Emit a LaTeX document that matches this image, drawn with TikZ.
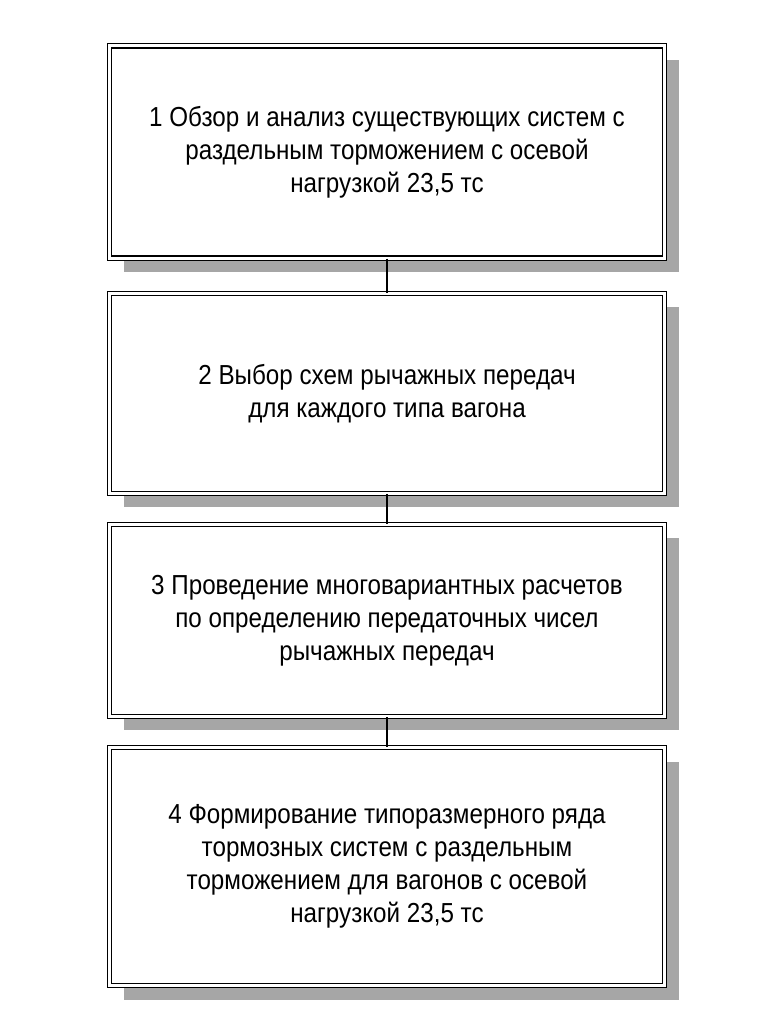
\documentclass[tikz,border=0pt]{standalone}
\usepackage{fontspec}
\setmainfont[FakeStretch=0.88]{Liberation Sans}
\usetikzlibrary{positioning,shadows}

\begin{document}
\begin{tikzpicture}[x=1pt,y=1pt,node distance=30pt,
  stage/.style={rectangle, draw, double, double distance=3pt, line width=1.2pt,
    fill=white, minimum width=555pt, align=center,
    font=\fontsize{27.5}{33}\selectfont,
    drop shadow={shadow xshift=14pt, shadow yshift=-14pt, fill=black!35, opacity=1}}]
				\useasboundingbox (0,0) rectangle (765,-1024);

				\node[stage, minimum height=212pt] (S1) at (387,-152)
					{1 Обзор и анализ существующих систем с\\раздельным торможением с осевой\\нагрузкой 23,5 тс};
				\node[stage, minimum height=200pt] (S2) [below=34pt of S1]
					{2 Выбор схем рычажных передач\\для каждого типа вагона};
				\node[stage, minimum height=192pt] (S3) [below=of S2]
					{3 Проведение многовариантных расчетов\\по определению передаточных чисел\\рычажных передач};
				\node[stage, minimum height=238pt] (S4) [below=of S3]
					{4 Формирование типоразмерного ряда\\тормозных систем с раздельным\\торможением для вагонов с осевой\\нагрузкой 23,5 тс};

				\draw[line width=1.2pt] (S1) -- (S2)
								(S2) -- (S3)
								(S3) -- (S4);

\end{tikzpicture}
\end{document}
